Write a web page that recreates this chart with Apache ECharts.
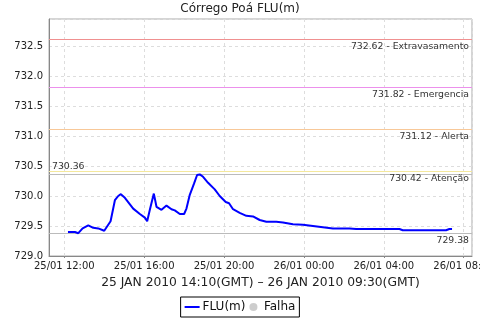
<!DOCTYPE html>
<html>
<head>
<meta charset="utf-8">
<script src="https://cdn.jsdelivr.net/npm/echarts@6/dist/echarts.min.js"></script>
<style>
  html, body { margin: 0; padding: 0; background: #fff; }
  #myChart { width: 480px; height: 320px; }
</style>
</head>
<body>
<div id="myChart"></div>
<script>
// leituras (hora local) e nivel em metros
var times = [
  '2010-01-25 12:11', '2010-01-25 12:32', '2010-01-25 12:42', '2010-01-25 12:55', '2010-01-25 13:12',
  '2010-01-25 13:27', '2010-01-25 13:42', '2010-01-25 14:00', '2010-01-25 14:19', '2010-01-25 14:32',
  '2010-01-25 14:42', '2010-01-25 14:50', '2010-01-25 15:02', '2010-01-25 15:27', '2010-01-25 15:47',
  '2010-01-25 16:02', '2010-01-25 16:09', '2010-01-25 16:17', '2010-01-25 16:29', '2010-01-25 16:37',
  '2010-01-25 16:52', '2010-01-25 17:07', '2010-01-25 17:22', '2010-01-25 17:32', '2010-01-25 17:47',
  '2010-01-25 18:00', '2010-01-25 18:07', '2010-01-25 18:17', '2010-01-25 18:30', '2010-01-25 18:39',
  '2010-01-25 18:47', '2010-01-25 18:57', '2010-01-25 19:12', '2010-01-25 19:32', '2010-01-25 19:47',
  '2010-01-25 20:05', '2010-01-25 20:15', '2010-01-25 20:27', '2010-01-25 20:47', '2010-01-25 21:07',
  '2010-01-25 21:27', '2010-01-25 21:47', '2010-01-25 22:07', '2010-01-25 22:37', '2010-01-25 22:57',
  '2010-01-25 23:27', '2010-01-25 23:57', '2010-01-26 00:27', '2010-01-26 00:57', '2010-01-26 01:27',
  '2010-01-26 02:17', '2010-01-26 02:37', '2010-01-26 03:47', '2010-01-26 04:47', '2010-01-26 04:57',
  '2010-01-26 05:02', '2010-01-26 05:17', '2010-01-26 07:07', '2010-01-26 07:17', '2010-01-26 07:25'
]
var levels = [
  729.40, 729.40, 729.38, 729.46, 729.51,
  729.47, 729.46, 729.42, 729.58, 729.93,
  730.00, 730.03, 729.97, 729.79, 729.70,
  729.64, 729.58, 729.77, 730.04, 729.82,
  729.77, 729.84, 729.78, 729.76, 729.70,
  729.70, 729.79, 730.02, 730.21, 730.35,
  730.36, 730.32, 730.22, 730.11, 730.00,
  729.90, 729.88, 729.78, 729.72, 729.67,
  729.66, 729.60, 729.57, 729.57, 729.56,
  729.53, 729.52, 729.50, 729.48, 729.46,
  729.46, 729.45, 729.45, 729.45, 729.43,
  729.45, 729.43, 729.43, 729.45, 729.45
]
// cotas de referencia
var cotaValues = [732.62, 731.82, 731.12, 730.42]
var cotaNames = ['Extravasamento', 'Emergencia', 'Alerta', 'Atenção']
var cotaColors = ['#f09090', '#ec90ec', '#f8c898', '#f4e89c']
var maxLevel = 730.36
var minLevel = 729.38

var font = 'DejaVu Sans'

var lineData = times.map(function (t, i) { return [t, levels[i]] })

// uma serie vazia por linha de referencia (cada uma com a sua cor)
let refSeries = function (name, value, color, text, pos) {
  return {
    name: name,
    type: 'line',
    data: [],
    silent: true,
    markLine: {
      silent: true,
      symbol: 'none',
      lineStyle: { color: color, width: 1, type: 'solid' },
      label: {
        formatter: text,
        position: pos,
        distance: 3,
        fontFamily: font,
        fontSize: 9.3,
        color: '#333'
      },
      data: [{ yAxis: value }]
    }
  }
}

var series = [
  {
    name: 'FLU(m)',
    type: 'line',
    data: lineData,
    symbol: 'none',
    z: 5,
    lineStyle: { color: '#0000ff', width: 2 },
    itemStyle: { color: '#0000ff' }
  },
  {
    name: 'Falha',
    type: 'scatter',
    data: [],
    itemStyle: { color: '#c0c0c0' }
  }
]
cotaValues.forEach(function (v, i) {
  series.push(refSeries('cota' + i, v, cotaColors[i], v.toFixed(2) + ' - ' + cotaNames[i], 'insideEndBottom'))
})
series.push(refSeries('max', maxLevel, '#bbbbbb', maxLevel.toFixed(2), 'insideStartTop'))
series.push(refSeries('min', minLevel, '#bbbbbb', minLevel.toFixed(2), 'insideEndBottom'))

var chart = echarts.init(document.getElementById('myChart'))

var option = {
  animation: false,
  title: {
    text: 'Córrego Poá FLU(m)',
    left: 'center',
    top: -2,
    textStyle: { fontFamily: font, fontSize: 12, fontWeight: 'normal', color: '#222' }
  },
  grid: {
    left: 49,
    right: 8,
    top: 19,
    bottom: 64,
    outerBoundsMode: 'none',
    containLabel: false,
    show: true,
    borderColor: '#aaaaaa',
    borderWidth: 1
  },
  legend: {
    bottom: 3,
    left: 'center',
    data: [
      { name: 'FLU(m)', icon: 'path://M0,0H15V2H0Z' },
      { name: 'Falha', icon: 'circle' }
    ],
    symbolKeepAspect: true,
    itemWidth: 15,
    itemHeight: 8,
    itemGap: 4,
    padding: [4, 4, 4, 4],
    borderColor: '#000',
    borderWidth: 1,
    borderRadius: 0,
    textStyle: { fontFamily: font, fontSize: 12, color: '#111', padding: [0, 0, 0, -2] }
  },
  xAxis: {
    type: 'time',
    min: '2010-01-25 11:14',
    max: '2010-01-26 08:25',
    splitNumber: 5,
    name: '25 JAN 2010 14:10(GMT) – 26 JAN 2010 09:30(GMT)',
    nameLocation: 'middle',
    nameGap: 21,
    nameTextStyle: { fontFamily: font, fontSize: 12.3, color: '#222' },
    axisLine: { lineStyle: { color: '#888' } },
    axisTick: { show: true, length: 2, lineStyle: { color: '#888' } },
    axisLabel: {
      fontFamily: font, fontSize: 10, color: '#222', margin: 5,
      hideOverlap: false,
      alignMinLabel: 'center', alignMaxLabel: 'center',
      showMinLabel: false, showMaxLabel: false,
      formatter: function (v) { return echarts.time.format(v, '{dd}/{MM} {HH}:{mm}', false) }
    },
    splitLine: { show: true, lineStyle: { color: '#dddddd', type: [3, 3] } }
  },
  yAxis: {
    type: 'value',
    min: 729,
    max: 732.95,
    interval: 0.5,
    axisLine: { show: true, lineStyle: { color: '#888' } },
    axisTick: { show: false },
    axisLabel: {
      fontFamily: font, fontSize: 10, color: '#222', margin: 6,
      showMaxLabel: false,
      formatter: function (v) { return (Math.round(v * 2) === v * 2) ? v.toFixed(1) : '' }
    },
    splitLine: { show: true, lineStyle: { color: '#dddddd', type: [3, 3] } }
  },
  series: series
}

chart.setOption(option)
</script>
</body>
</html>
